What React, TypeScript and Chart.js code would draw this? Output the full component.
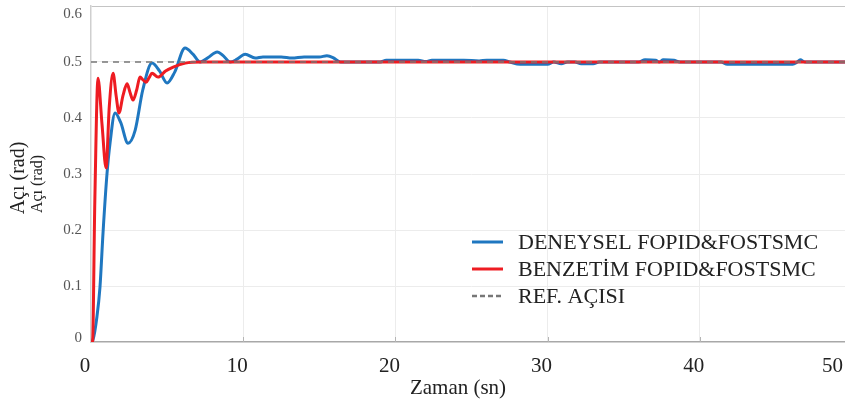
import React, { useEffect, useRef } from "react";
import { Chart, registerables } from "chart.js";

Chart.register(...registerables);

// ---- data ----
const blueTimes = [0, 0.13, 0.39, 0.59, 0.79, 1.05, 1.25, 1.58, 1.95, 2.43, 2.9, 3.4, 4.01, 4.5, 5.0, 5.5, 6.18, 6.7, 7.17, 7.7, 8.29, 8.7, 9.14, 9.6, 10.13, 10.79, 11.3, 12.5, 13.2, 14.0, 15.0, 15.5, 15.9, 16.4, 17.5, 19.0, 19.4, 21.5, 22.0, 22.4, 24.5, 25.5, 26.0, 27.1, 27.5, 28.2, 30.0, 30.4, 30.9, 31.3, 31.8, 32.2, 33.0, 33.4, 36.0, 36.4, 37.1, 37.35, 37.6, 38.3, 38.7, 41.4, 41.8, 46.1, 46.4, 46.6, 46.9, 50];
const blueValues = [0, 0.004, 0.045, 0.098, 0.195, 0.3, 0.355, 0.409, 0.392, 0.355, 0.378, 0.45, 0.498, 0.484, 0.4625, 0.482, 0.525, 0.514, 0.5, 0.508, 0.518, 0.511, 0.5, 0.505, 0.514, 0.507, 0.509, 0.509, 0.507, 0.509, 0.509, 0.511, 0.508, 0.5, 0.5, 0.5, 0.503, 0.503, 0.501, 0.503, 0.503, 0.502, 0.503, 0.503, 0.5, 0.496, 0.496, 0.5, 0.497, 0.5, 0.5, 0.497, 0.497, 0.5, 0.5, 0.504, 0.503, 0.5, 0.504, 0.503, 0.5, 0.5, 0.496, 0.496, 0.5, 0.504, 0.5, 0.5];

const redTimes = [0, 0.1, 0.25, 0.46, 0.72, 0.99, 1.2, 1.45, 1.65, 1.84, 2.1, 2.37, 2.56, 2.76, 3.0, 3.22, 3.42, 3.62, 3.82, 4.01, 4.4, 4.9, 5.4, 6.2, 7.2, 8.5, 50];
const redValues = [0, 0, 0.25, 0.471, 0.39, 0.311, 0.42, 0.48, 0.44, 0.409, 0.44, 0.461, 0.446, 0.432, 0.45, 0.473, 0.468, 0.464, 0.472, 0.48, 0.473, 0.484, 0.491, 0.498, 0.5, 0.5, 0.5];

const refTimes = [0, 50];
const refValues = [0.5, 0.5];

const xTickValues = [0, 10, 20, 30, 40, 50];
const yTickValues = [0, 0.1, 0.2, 0.3, 0.4, 0.5, 0.6];
const xTickLabels = ["0", "10", "20", "30", "40", "50"];
const yTickLabels = ["0", "0.1", "0.2", "0.3", "0.4", "0.5", "0.6"];

const seriesLabels = ["DENEYSEL FOPID&FOSTSMC", "BENZETİM FOPID&FOSTSMC", "REF. AÇISI"];
const xTitle = "Zaman (sn)";
const yTitle = "Açı (rad)";

const BLUE = "#1f77c0";
const RED = "#ee1c22";
const GRAY = "#777777";
const SERIF = '"Liberation Serif", "Times New Roman", serif';

function toPoints(xs: number[], ys: number[]) {
  return xs.map((x, i) => ({ x, y: ys[i] }));
}

const overlayPlugin = {
  id: "overlayText",
  afterDraw(chart: any) {
    const ctx = chart.ctx as CanvasRenderingContext2D;
    const xs = chart.scales.x;
    const ys = chart.scales.y;
    const area = chart.chartArea;
    ctx.save();

    // small inward tick marks on the bottom axis
    ctx.strokeStyle = "#b5b5b5";
    ctx.lineWidth = 1;
    xTickValues.forEach((v) => {
      if (v === 0) return;
      const px = Math.round(xs.getPixelForValue(v)) + 0.5;
      ctx.beginPath();
      ctx.moveTo(px, area.bottom);
      ctx.lineTo(px, area.bottom - 5);
      ctx.stroke();
    });

    // x tick labels (kept inside the visible canvas)
    ctx.fillStyle = "#222";
    ctx.font = `21px ${SERIF}`;
    ctx.textAlign = "center";
    ctx.textBaseline = "middle";
    const visibleRight = 843;
    xTickValues.forEach((v, i) => {
      const label = xTickLabels[i];
      const w = ctx.measureText(label).width;
      let cx = xs.getPixelForValue(v) - 6;
      if (cx + w / 2 > visibleRight) cx = visibleRight - w / 2;
      ctx.fillText(label, cx, area.bottom + 24);
    });

    // y tick labels
    ctx.fillStyle = "#555";
    ctx.font = `15px ${SERIF}`;
    ctx.textAlign = "right";
    yTickValues.forEach((v, i) => {
      let cy = ys.getPixelForValue(v);
      cy = Math.min(Math.max(cy, area.top + 8), area.bottom - 4);
      ctx.fillText(yTickLabels[i], area.left - 9, cy);
    });

    // x title
    ctx.fillStyle = "#222";
    ctx.font = `21px ${SERIF}`;
    ctx.textAlign = "center";
    ctx.fillText(xTitle, 458, 388);

    // y titles (two overlapping copies, as in the reference)
    ctx.save();
    ctx.translate(19, 178);
    ctx.rotate(-Math.PI / 2);
    ctx.font = `20px ${SERIF}`;
    ctx.fillText(yTitle, 0, 0);
    ctx.restore();
    ctx.save();
    ctx.translate(38, 184);
    ctx.rotate(-Math.PI / 2);
    ctx.font = `16px ${SERIF}`;
    ctx.fillText(yTitle, 0, 0);
    ctx.restore();

    // legend
    const colors = [BLUE, RED, GRAY];
    const rows = [242, 269, 296];
    for (let i = 0; i < seriesLabels.length; i++) {
      ctx.beginPath();
      ctx.strokeStyle = colors[i];
      ctx.lineWidth = i === 2 ? 2.5 : 3;
      ctx.setLineDash(i === 2 ? [5, 3] : []);
      ctx.moveTo(472, rows[i]);
      ctx.lineTo(503, rows[i]);
      ctx.stroke();
      ctx.setLineDash([]);
      ctx.fillStyle = "#222";
      ctx.font = `22px ${SERIF}`;
      ctx.textAlign = "left";
      ctx.textBaseline = "middle";
      ctx.fillText(seriesLabels[i], 518, rows[i] + 1);
    }
    ctx.restore();
  },
};

export default function App() {
  const canvasRef = useRef<HTMLCanvasElement | null>(null);

  useEffect(() => {
    const canvas = canvasRef.current;
    if (!canvas) return;
    const chart = new Chart(canvas, {
      type: "line",
      data: {
        datasets: [
          {
            label: seriesLabels[0],
            data: toPoints(blueTimes, blueValues),
            borderColor: BLUE,
            borderWidth: 3,
            pointRadius: 0,
            cubicInterpolationMode: "monotone",
            order: 3,
          },
          {
            label: seriesLabels[1],
            data: toPoints(redTimes, redValues),
            borderColor: RED,
            borderWidth: 3,
            pointRadius: 0,
            cubicInterpolationMode: "monotone",
            order: 2,
          },
          {
            label: seriesLabels[2],
            data: toPoints(refTimes, refValues),
            borderColor: GRAY,
            borderWidth: 1.5,
            borderDash: [6, 5],
            pointRadius: 0,
            order: 1,
          },
        ],
      },
      options: {
        animation: false,
        responsive: true,
        maintainAspectRatio: false,
        layout: { padding: { top: 6, right: 0, bottom: 0, left: 0 } },
        plugins: {
          legend: { display: false },
          tooltip: { enabled: false },
        },
        scales: {
          x: {
            type: "linear",
            min: 0,
            max: 50,
            afterBuildTicks: (scale: any) => {
              scale.ticks = xTickValues.map((v) => ({ value: v }));
            },
            afterFit: (scale: any) => {
              scale.height = 67;
              scale.paddingLeft = 0;
              scale.paddingRight = 0;
            },
            grid: {
              color: (c: any) => (c.tick && c.tick.value === 0 ? "rgba(0,0,0,0)" : "#ececec"),
              drawTicks: false,
            },
            border: { color: "#a8a8a8", width: 1.5 },
            ticks: { display: false },
          },
          y: {
            type: "linear",
            min: 0,
            max: 0.6,
            afterBuildTicks: (scale: any) => {
              scale.ticks = yTickValues.map((v) => ({ value: v }));
            },
            afterFit: (scale: any) => {
              scale.width = 91;
              scale.paddingTop = 0;
              scale.paddingBottom = 0;
            },
            grid: {
              color: (c: any) =>
                c.tick && Math.abs(c.tick.value - 0.6) < 1e-6
                  ? "#c4c4c4"
                  : c.tick && c.tick.value === 0
                  ? "rgba(0,0,0,0)"
                  : "#ececec",
              drawTicks: false,
            },
            border: { color: "#cfcfcf", width: 1.5 },
            ticks: { display: false },
          },
        },
      },
      plugins: [overlayPlugin],
    } as any);
    return () => chart.destroy();
  }, []);

  return (
    <div
      style={{
        position: "fixed",
        left: 0,
        top: 0,
        width: 845,
        height: 409,
        overflow: "hidden",
        background: "#fff",
      }}
    >
      <div style={{ position: "relative", width: 852, height: 409 }}>
        <canvas ref={canvasRef} />
      </div>
    </div>
  );
}
